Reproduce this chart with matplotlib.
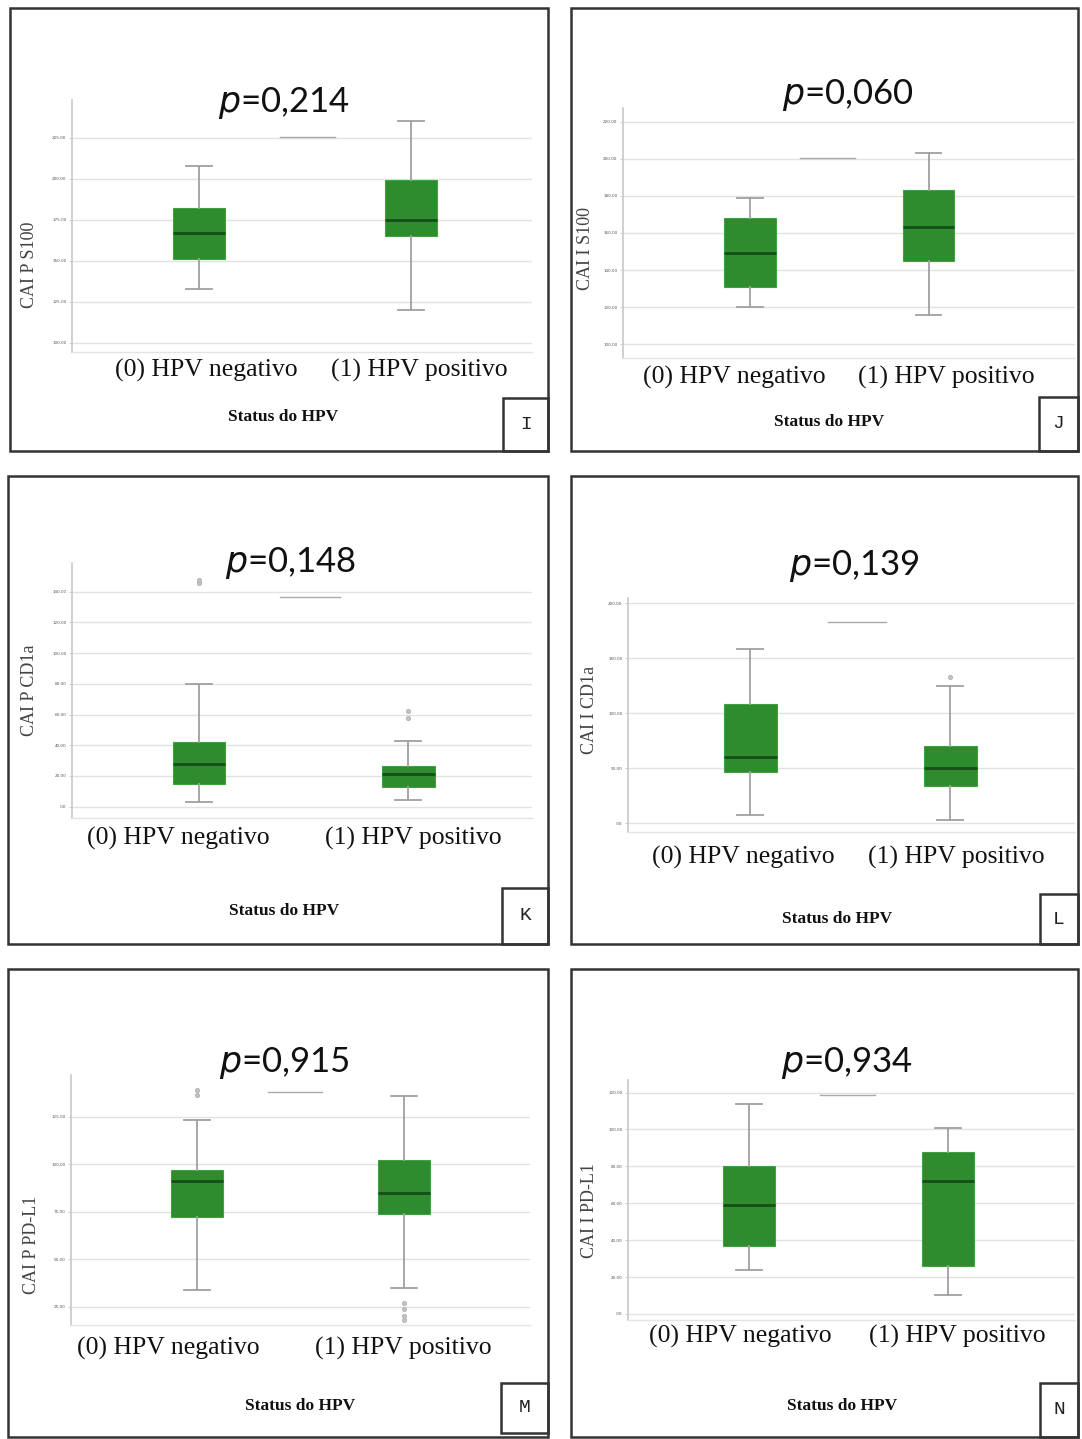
import matplotlib
matplotlib.use('Agg')
import matplotlib.pyplot as plt
from matplotlib.patches import Rectangle
from matplotlib.lines import Line2D

W, H = 1082, 1439

groups = ['(0) HPV negativo', '(1) HPV positivo']
panel_letters = ['I', 'J', 'K', 'L', 'M', 'N']
p_values = ['0,214', '0,060', '0,148', '0,139', '0,915', '0,934']
y_titles = ['CAI P S100', 'CAI I S100', 'CAI P CD1a', 'CAI I CD1a', 'CAI P PD-L1', 'CAI I PD-L1']

# box stats per panel: [whislo, q1, med, q3, whishi] for negativo / positivo
neg_stats = [
    [133, 151, 167, 182, 208],
    [120, 131, 149, 168, 179],
    [3, 15, 28, 42, 80],
    [7.5, 47, 60, 108, 158],
    [34, 72, 91, 97, 123],
    [24, 37, 59, 80, 114],
]
pos_stats = [
    [120, 165, 175, 199, 235],
    [116, 145, 163, 183, 203],
    [4.4, 13, 21, 26.5, 43],
    [3, 34, 50, 70, 125],
    [35, 74, 85, 102, 136],
    [10, 26, 72, 88, 101],
]
neg_outliers = [[], [], [145.5, 147.5], [], [136.4, 139], []]
pos_outliers = [[], [], [58, 62], [133], [27, 24, 20, 18], []]

y_ticks = [
    [100, 125, 150, 175, 200, 225],
    [100, 120, 140, 160, 180, 200, 220],
    [0, 20, 40, 60, 80, 100, 120, 140],
    [0, 50, 100, 150, 200],
    [25, 50, 75, 100, 125],
    [0, 20, 40, 60, 80, 100, 120],
]
y_limits = [(94.5, 248), (92.6, 227.4), (-7.4, 158.7), (-7.9, 204.8), (15.4, 146.9), (-3.3, 126.8)]
x_limits = [(0.40, 2.57), (0.29, 2.82), (0.395, 2.59), (0.39, 2.625), (0.39, 2.61), (0.39, 2.64)]
box_widths = [0.245, 0.29, 0.25, 0.265, 0.25, 0.26]

# layout in pixels
frames = [(10, 8, 548, 451), (571, 8, 1078, 451), (8, 476, 548, 944),
          (571, 476, 1078, 944), (8, 969, 548, 1437), (571, 969, 1078, 1437)]
letter_boxes = [(503, 398, 548, 451), (1039, 397, 1078, 451), (502, 888, 548, 944),
                (1040, 894, 1078, 944), (501, 1383, 548, 1433), (1040, 1383, 1078, 1437)]
axes_px = [(72, 100, 532, 352), (623, 108, 1075, 358), (72, 563, 532, 818),
           (628, 598, 1075, 832), (71, 1075, 530, 1325), (628, 1080, 1075, 1320)]
p_pos = [(284, 103), (848, 95), (291, 563), (854, 566), (284, 1063), (847, 1063)]
xt_pos = [(206, 419, 370), (734, 946, 377), (178, 413, 838), (743, 956, 857),
          (168, 403, 1348), (740, 957, 1336)]
status_pos = [(283, 417), (829, 422), (284, 911), (837, 919), (300, 1406), (842, 1406)]
ylab_pos = [(29, 265), (585, 248), (30, 690), (590, 710), (32, 1245), (590, 1210)]
dash_pos = [(280, 335, 137), (800, 855, 158), (280, 340, 597), (828, 886, 622),
            (268, 322, 1092), (820, 875, 1095)]


def fx(x):
    return x / W


def fy(y):
    return 1 - y / H


fig = plt.figure(figsize=(W / 100, H / 100), dpi=100)

green = '#2e8b2e'
serif = ['Liberation Serif', 'DejaVu Serif']

for i in range(6):
    # panel frame
    x0, y0, x1, y1 = frames[i]
    fig.add_artist(Rectangle((fx(x0), fy(y1)), fx(x1) - fx(x0), fy(y0) - fy(y1),
                             transform=fig.transFigure, fill=False, lw=1.8, ec='#333333'))
    lx0, ly0, lx1, ly1 = letter_boxes[i]
    fig.add_artist(Rectangle((fx(lx0), fy(ly1)), fx(lx1) - fx(lx0), fy(ly0) - fy(ly1),
                             transform=fig.transFigure, fill=False, lw=1.8, ec='#333333'))
    fig.text(fx((lx0 + lx1) / 2), fy((ly0 + ly1) / 2), panel_letters[i],
             family=['Liberation Mono', 'DejaVu Sans Mono'], fontsize=14,
             ha='center', va='center', color='#222222')

    ax0, ay0, ax1, ay1 = axes_px[i]
    ax = fig.add_axes([fx(ax0), fy(ay1), fx(ax1) - fx(ax0), fy(ay0) - fy(ay1)])
    stats = []
    for s, outl, lab in ((neg_stats[i], neg_outliers[i], groups[0]),
                         (pos_stats[i], pos_outliers[i], groups[1])):
        stats.append(dict(whislo=s[0], q1=s[1], med=s[2], q3=s[3], whishi=s[4],
                          fliers=outl, label=lab))
    ax.bxp(stats, positions=[1, 2], widths=box_widths[i], patch_artist=True,
           boxprops=dict(facecolor=green, edgecolor='#3fa33f', lw=0.8),
           medianprops=dict(color='#174d17', lw=2),
           whiskerprops=dict(color='#a0a0a0', lw=1.3),
           capprops=dict(color='#a0a0a0', lw=1.3),
           capwidths=box_widths[i] * 0.5,
           flierprops=dict(marker='o', markersize=3, markerfacecolor='#c4c4c4',
                           markeredgecolor='#b0b0b0', markeredgewidth=0.6),
           zorder=3)
    ax.set_xlim(*x_limits[i])
    ax.set_ylim(*y_limits[i])
    ax.set_yticks(y_ticks[i])
    ax.set_yticklabels(['.00' if t == 0 else '%.2f' % t for t in y_ticks[i]],
                       fontsize=3, color='#555555')
    ax.tick_params(axis='y', length=2, width=0.5, color='#bbbbbb', pad=2)
    ax.set_xticks([])
    ax.grid(axis='y', color='#e2e2e2', lw=1, zorder=0)
    for side in ('top', 'right'):
        ax.spines[side].set_visible(False)
    ax.spines['left'].set_color('#c8c8c8')
    ax.spines['left'].set_linewidth(1.2)
    ax.spines['bottom'].set_color('#e4e4e4')
    ax.spines['bottom'].set_linewidth(1)

    # category labels
    nx, px_, ty = xt_pos[i]
    for xx, lab in ((nx, groups[0]), (px_, groups[1])):
        fig.text(fx(xx), fy(ty), lab, family=serif, fontsize=18.5,
                 ha='center', va='center', color='#111111')
    sx, sy = status_pos[i]
    fig.text(fx(sx), fy(sy), 'Status do HPV', family=serif, fontsize=12.5,
             fontweight='bold', ha='center', va='center', color='#111111')
    yx, yy = ylab_pos[i]
    fig.text(fx(yx), fy(yy), y_titles[i], family=serif, fontsize=13, rotation=90,
             ha='center', va='center', color='#444444')
    # p-value
    ppx, ppy = p_pos[i]
    fig.text(fx(ppx), fy(ppy), '$\\mathit{p}$=' + p_values[i],
             family=['Lato', 'DejaVu Sans'], fontsize=25,
             ha='center', va='center', color='#111111')
    d0, d1, dy = dash_pos[i]
    fig.add_artist(Line2D([fx(d0), fx(d1)], [fy(dy), fy(dy)], transform=fig.transFigure,
                          color='#aaaaaa', lw=1))

fig.savefig('out.png', dpi=100)
